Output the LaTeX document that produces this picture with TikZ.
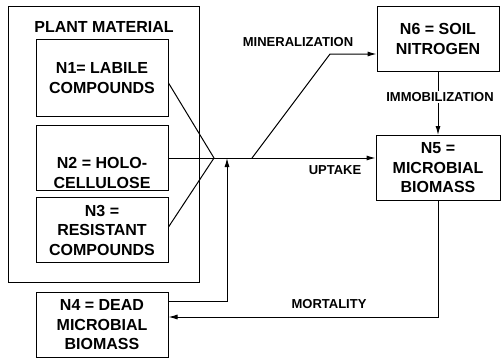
\documentclass[tikz,border=0pt]{standalone}
\usepackage{fontspec}
\setmainfont{Liberation Sans}
\usetikzlibrary{arrows.meta}

\tikzset{
  pooltext/.style={align=center, font=\bfseries\fontsize{16}{19.5}\selectfont},
  pool/.style={pooltext, draw, line width=1pt, minimum width=132pt, minimum height=65pt, inner sep=0pt},
  flow/.style={line width=1pt, -{Latex[length=9pt,width=5pt]}},
  flowlabel/.style={font=\bfseries\fontsize{13}{15}\selectfont, inner sep=1pt}
}

\begin{document}
\begin{tikzpicture}[x=1pt,y=-1pt]
                \useasboundingbox (0,0) rectangle (502,361);
                %plant material
                \draw[line width=1pt] (8,7) rectangle (199,282);
                \node[pooltext] (plant) at (104,27) {PLANT MATERIAL};
                \node[pool, minimum height=76pt] (n1) at (102,78) {N1= LABILE\\COMPOUNDS};
                \node[pool] (n2) at (102,158) {};
                \node[pooltext] (n2txt) at (102,173) {N2 = HOLO-\\CELLULOSE};
                \node[pool] (n3) at (102,230) {N3 =\\RESISTANT\\COMPOUNDS};
                %microbes and soil
                \node[pool] (n4) at (102,325) {N4 = DEAD\\MICROBIAL\\BIOMASS};
                \node[pool, minimum width=122pt] (n6) at (438,39) {N6 = SOIL\\NITROGEN};
                \node[pool, minimum width=124pt] (n5) at (438,168) {N5 =\\MICROBIAL\\BIOMASS};
                %junction
                \coordinate (j) at (214,158);
                \coordinate (b) at (252,158);
                \coordinate (m) at (330,54);
                \coordinate (k) at (227,158);
                \draw[line width=1pt] ([yshift=-5pt]n1.east) -- (j);
                \draw[line width=1pt] (n2.east) -- (j);
                \draw[line width=1pt] ([yshift=3pt]n3.east) -- (j);
                %flows
                \draw[flow] (j) -- (j -| n5.west);
                \draw[flow] (b) -- (m) -- (m -| n6.west);
                \draw[flow] (n6) -- (n5);
                \draw[flow] (n5.south) |- ([yshift=8pt]n4.east);
                \draw[flow] ([yshift=24pt]n4.east) -| (k);
                %labels
                \node[flowlabel] (mineral) at (298,42) {MINERALIZATION};
                \node[flowlabel] (uptake) at (335,170) {UPTAKE};
                \node[flowlabel, fill=white] (immob) at (440,97) {IMMOBILIZATION};
                \node[flowlabel] (mortal) at (329,304) {MORTALITY};
\end{tikzpicture}
\end{document}
